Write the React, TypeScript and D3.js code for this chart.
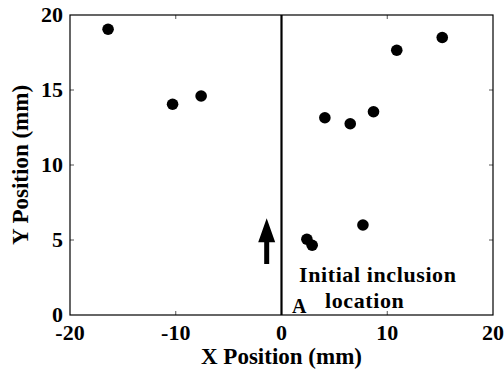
import * as d3 from "d3"

const xs = [-16.4, -10.3, -7.6, 2.4, 2.9, 4.1, 6.5, 7.7, 8.7, 10.9, 15.2]
const ys = [19.05, 14.05, 14.6, 5.05, 4.65, 13.15, 12.75, 6.0, 13.55, 17.65, 18.5]
const xTicks = [-20, -10, 0, 10, 20]
const yTicks = [0, 5, 10, 15, 20]
const arrowX = -1.4
const arrowFrom = 3.4
const arrowTo = 6.45

const width = 504
const height = 374
const margin = { top: 15, right: 11, bottom: 59, left: 70 }

export default function App() {
  const x = d3.scaleLinear().domain([-20, 20]).range([margin.left, width - margin.right])
  const y = d3.scaleLinear().domain([0, 20]).range([height - margin.bottom, margin.top])
  const [x0, x1] = x.range()
  const [y0, y1] = y.range()

  // arrow drawn as a filled polygon, pointing up
  const ax = x(arrowX)
  const tip = y(arrowTo)
  const tail = y(arrowFrom)
  const headLen = 24
  const headW = 8.5
  const shaftW = 2.5
  const arrow = d3.path()
  arrow.moveTo(ax, tip)
  arrow.lineTo(ax + headW, tip + headLen)
  arrow.lineTo(ax + shaftW, tip + headLen)
  arrow.lineTo(ax + shaftW, tail)
  arrow.lineTo(ax - shaftW, tail)
  arrow.lineTo(ax - shaftW, tip + headLen)
  arrow.lineTo(ax - headW, tip + headLen)
  arrow.closePath()

  return (
    <svg
      width={width}
      height={height}
      style={{ position: "absolute", left: 0, top: 0, background: "#fff", fontFamily: "'Liberation Serif', serif", fontWeight: "bold" }}
    >
      {/* inward ticks on all four sides */}
      {xTicks.slice(1, -1).map((t) => (
        <g key={"xt" + t} stroke="#555" strokeWidth={1}>
          <line x1={x(t)} x2={x(t)} y1={y0} y2={y0 - 4} />
          <line x1={x(t)} x2={x(t)} y1={y1} y2={y1 + 4} />
        </g>
      ))}
      {yTicks.slice(1, -1).map((t) => (
        <g key={"yt" + t} stroke="#555" strokeWidth={1}>
          <line x1={x0} x2={x0 + 4} y1={y(t)} y2={y(t)} />
          <line x1={x1} x2={x1 - 4} y1={y(t)} y2={y(t)} />
        </g>
      ))}
      <rect x={x0} y={y1} width={x1 - x0} height={y0 - y1} fill="none" stroke="#000" strokeWidth={1.2} />
      <line x1={x(0)} x2={x(0)} y1={y1} y2={y0} stroke="#000" strokeWidth={2.2} />

      {xs.map((v, i) => (
        <circle key={i} cx={x(v)} cy={y(ys[i])} r={5.8} fill="#000" />
      ))}

      <path d={arrow.toString()} fill="#000" />

      {xTicks.map((t) => (
        <text key={"xl" + t} x={x(t)} y={340} textAnchor="middle" fontSize={22}>
          {t}
        </text>
      ))}
      {yTicks.map((t) => (
        <text key={"yl" + t} x={63} y={y(t) + 7} textAnchor="end" fontSize={22}>
          {t}
        </text>
      ))}
      <text x={(x0 + x1) / 2} y={364} textAnchor="middle" fontSize={23}>
        X Position (mm)
      </text>
      <text transform={`translate(28,${(y0 + y1) / 2}) rotate(-90)`} textAnchor="middle" fontSize={23}>
        Y Position (mm)
      </text>

      <text x={299} y={282} fontSize={22} letterSpacing={0.6}>
        Initial inclusion
      </text>
      <text x={325} y={308} fontSize={22} letterSpacing={0.6}>
        location
      </text>
      <text x={292} y={313} fontSize={20}>
        A
      </text>
    </svg>
  )
}
